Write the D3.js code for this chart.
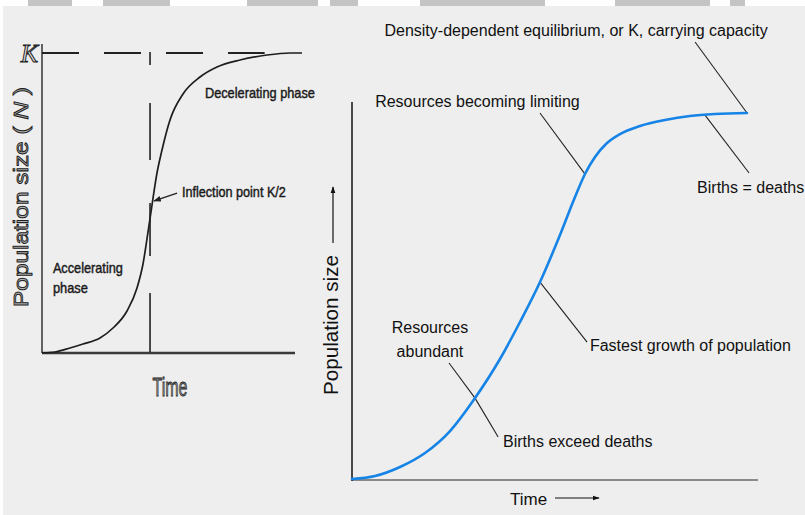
<!DOCTYPE html>
<html><head><meta charset="utf-8">
<script src="https://cdn.jsdelivr.net/npm/d3@7"></script>
<style>html,body{margin:0;padding:0;background:#eeeeee;} svg{display:block}</style>
</head><body>
<svg id="c" width="805" height="515"></svg>
<script>
// ---------- DATA ----------
// Left panel: logistic growth, N as % of carrying capacity K
const leftTime = [0, 5.14, 11.07, 16.21, 22.92, 28.06, 33.6, 37.55, 39.92, 41.9, 43.48, 45.45, 47.43, 50.59, 55.73, 62.45, 69.17, 78.26, 88.93, 98.02, 102.77];
const leftN    = [0, 0.33, 1.67, 3, 5, 8.33, 14, 21.67, 29.67, 40.33, 49.33, 60, 67.67, 77.67, 86.33, 92, 95.33, 97.67, 99.33, 100, 100];
const leftK = 100;
const leftInflectionTime = 42.7;
const leftKLineEnd = 88;

// Right panel: logistic growth, population size as % of K
const rightTime = [0, 5.67, 11.82, 17.98, 24.14, 30.3, 36.45, 41.38, 46.31, 51.23, 54.93, 57.39, 59.85, 62.81, 66.01, 70.94, 77.09, 83.25, 89.41, 97.29];
const rightN    = [0, 0.82, 3.28, 7.1, 13.11, 22.13, 32.79, 42.9, 53.83, 66.67, 77.05, 83.33, 87.98, 91.8, 94.26, 96.45, 98.09, 99.18, 99.73, 100];

// Left panel labels
const leftLabels = ["Decelerating phase", "Inflection point K/2", "Accelerating", "phase", "Time", "K"];
const leftYLabel = ["Population size ( ", "N", " )"];

// Right panel annotations: text lines, anchor on curve [t, n], leader end [t, n], text position [t, n]
const rightNotes = [
  { lines: ["Density-dependent equilibrium, or K, carrying capacity"], from: [97.3, 100], to: [84.5, 119.4], at: [55.2, 121.0], anchor: "middle" },
  { lines: ["Resources becoming limiting"], from: [57.4, 83.3], to: [46.3, 100], at: [5.7, 101.6], anchor: "start" },
  { lines: ["Births = deaths"], from: [86.9, 99.5], to: [97.8, 83.6], at: [85.0, 78.1], anchor: "start" },
  { lines: ["Resources", "abundant"], from: [30.3, 22.1], to: [23.9, 31.7], at: [19.2, 39.9], anchor: "middle" },
  { lines: ["Births exceed deaths"], from: [30.3, 22.1], to: [36.0, 11.5], at: [37.2, 8.7], anchor: "start" },
  { lines: ["Fastest growth of population"], from: [46.3, 53.8], to: [57.9, 37.4], at: [58.6, 35.0], anchor: "start" }
];
const rightYLabel = "Population size";
const rightXLabel = "Time";

// ---------- DRAW ----------
const svg = d3.select("#c");
const W = 805, H = 515;

svg.append("defs").html(`
  <marker id="ahL" viewBox="0 0 10 10" refX="9" refY="5" markerWidth="5" markerHeight="5" orient="auto">
    <path d="M0,1 L10,5 L0,9 z" fill="#222"/></marker>
  <marker id="ahR" viewBox="0 0 10 10" refX="9" refY="5" markerWidth="6" markerHeight="6" orient="auto">
    <path d="M0,1.5 L10,5 L0,8.5 z" fill="#111"/></marker>`);

// background
svg.append("rect").attr("width", W).attr("height", H).attr("fill", "#eeeeee");
svg.append("rect").attr("width", 3).attr("height", H).attr("fill", "#ffffff");
// top watermark band
svg.append("rect").attr("width", W).attr("height", 6).attr("fill", "#ffffff");
[[28,72],[103,170],[247,318],[330,358],[420,545],[615,710],[730,745]].forEach(([a,b]) =>
  svg.append("rect").attr("x", a).attr("y", 0).attr("width", b - a).attr("height", 6).attr("fill", "#c4c4c4"));

const sans = "'Liberation Sans', Arial, Helvetica, sans-serif";

// ===== LEFT PANEL =====
const xL = d3.scaleLinear().domain([0, 100]).range([42, 295]);
const yL = d3.scaleLinear().domain([0, 100]).range([353, 53]);
const gL = svg.append("g");

// axes
gL.append("line").attr("x1", xL(0)).attr("x2", xL(0)).attr("y1", yL(103)).attr("y2", yL(0))
  .attr("stroke", "#333").attr("stroke-width", 1.5);
gL.append("line").attr("x1", xL(0)).attr("x2", xL(100)).attr("y1", yL(0)).attr("y2", yL(0))
  .attr("stroke", "#3a3a3a").attr("stroke-width", 2.5);

// K dashed line
gL.append("line").attr("x1", xL(0)).attr("x2", xL(leftKLineEnd)).attr("y1", yL(leftK)).attr("y2", yL(leftK))
  .attr("stroke", "#222").attr("stroke-width", 2.2).attr("stroke-dasharray", "37,25");

// inflection vertical dashed line
gL.append("line").attr("x1", xL(leftInflectionTime)).attr("x2", xL(leftInflectionTime))
  .attr("y1", yL(leftK) - 1).attr("y2", yL(0))
  .attr("stroke", "#222").attr("stroke-width", 1.6)
  .attr("stroke-dasharray", "13,38,57,43,53,37,59,40");

// curve
const lineL = d3.line().x(d => xL(d[0])).y(d => yL(d[1])).curve(d3.curveMonotoneX);
gL.append("path").datum(leftTime.map((t, i) => [t, leftN[i]]))
  .attr("d", lineL).attr("fill", "none").attr("stroke", "#1e1e1e").attr("stroke-width", 1.7);

// K label
gL.append("text").attr("x", xL(0) - 4).attr("y", yL(leftK) + 9).attr("text-anchor", "end")
  .attr("font-family", "'Liberation Serif', serif").attr("font-style", "italic").attr("font-size", 26)
  .attr("fill", "#ddd").attr("stroke", "#222").attr("stroke-width", 1).text(leftLabels[5]);

// y label
const yl = gL.append("text").attr("transform", `translate(28,${(yL(0) + yL(100)) / 2 - 6}) rotate(-90)`)
  .attr("text-anchor", "middle").attr("font-family", sans).attr("font-size", 21)
  .attr("textLength", 220).attr("lengthAdjust", "spacingAndGlyphs")
  .attr("fill", "#b0b0b0").attr("stroke", "#222").attr("stroke-width", 0.9);
yl.append("tspan").text(leftYLabel[0]);
yl.append("tspan").attr("font-style", "italic").text(leftYLabel[1]);
yl.append("tspan").text(leftYLabel[2]);

// phase labels
const lblStyle = s => s.attr("font-family", sans).attr("font-size", 15).attr("fill", "#1a1a1a")
  .attr("stroke", "#1a1a1a").attr("stroke-width", 0.45).attr("lengthAdjust", "spacingAndGlyphs");
gL.append("text").attr("x", xL(64.4)).attr("y", yL(85)).attr("textLength", 110).call(lblStyle).text(leftLabels[0]);
gL.append("text").attr("x", xL(55.3)).attr("y", yL(52)).attr("textLength", 104).call(lblStyle).text(leftLabels[1]);
gL.append("text").attr("x", xL(4.3)).attr("y", yL(26.7)).attr("textLength", 70).call(lblStyle).text(leftLabels[2]);
gL.append("text").attr("x", xL(4.3)).attr("y", yL(20)).attr("textLength", 35).call(lblStyle).text(leftLabels[3]);

// inflection arrow
gL.append("line").attr("x1", xL(53.4)).attr("y1", yL(53.3)).attr("x2", xL(44.3)).attr("y2", yL(50.7))
  .attr("stroke", "#222").attr("stroke-width", 1.5).attr("marker-end", "url(#ahL)");

// Time label
gL.append("text").attr("x", xL(50.6)).attr("y", yL(0) + 43).attr("text-anchor", "middle")
  .attr("font-family", sans).attr("font-size", 26).attr("textLength", 35).attr("lengthAdjust", "spacingAndGlyphs")
  .attr("fill", "#888").attr("stroke", "#222").attr("stroke-width", 0.8).text(leftLabels[4]);

// ===== RIGHT PANEL =====
const xR = d3.scaleLinear().domain([0, 100]).range([352, 758]);
const yR = d3.scaleLinear().domain([0, 100]).range([479, 113]);
const gR = svg.append("g");

gR.append("line").attr("x1", xR(0)).attr("x2", xR(100)).attr("y1", yR(0) + 1).attr("y2", yR(0) + 1)
  .attr("stroke", "#8a8a8a").attr("stroke-width", 2.2);
gR.append("line").attr("x1", xR(0)).attr("x2", xR(0)).attr("y1", yR(103)).attr("y2", yR(0) + 2)
  .attr("stroke", "#111").attr("stroke-width", 1.5);

// leader lines
rightNotes.forEach(n => {
  gR.append("line").attr("x1", xR(n.from[0])).attr("y1", yR(n.from[1]))
    .attr("x2", xR(n.to[0])).attr("y2", yR(n.to[1]))
    .attr("stroke", "#222").attr("stroke-width", 1.1);
});

// blue curve
const lineR = d3.line().x(d => xR(d[0])).y(d => yR(d[1])).curve(d3.curveMonotoneX);
gR.append("path").datum(rightTime.map((t, i) => [t, rightN[i]]))
  .attr("d", lineR).attr("fill", "none").attr("stroke", "#1684e6").attr("stroke-width", 2.6)
  .attr("stroke-linecap", "round");

// annotation texts
rightNotes.forEach(n => {
  n.lines.forEach((l, i) => {
    gR.append("text").attr("x", xR(n.at[0])).attr("y", yR(n.at[1]) + i * 24)
      .attr("text-anchor", n.anchor).attr("font-family", sans).attr("font-size", 16)
      .attr("fill", "#111").text(l);
  });
});

// y label with arrow
gR.append("text").attr("transform", `translate(338,325) rotate(-90)`).attr("text-anchor", "middle")
  .attr("font-family", sans).attr("font-size", 20).attr("textLength", 140).attr("lengthAdjust", "spacingAndGlyphs")
  .attr("fill", "#111").text(rightYLabel);
gR.append("line").attr("x1", 333).attr("x2", 333).attr("y1", 243).attr("y2", 187)
  .attr("stroke", "#111").attr("stroke-width", 1.2).attr("marker-end", "url(#ahR)");

// x label with arrow
gR.append("text").attr("x", 510).attr("y", 505).attr("font-family", sans).attr("font-size", 17)
  .attr("fill", "#111").text(rightXLabel);
gR.append("line").attr("x1", 555).attr("x2", 599).attr("y1", 498).attr("y2", 498)
  .attr("stroke", "#111").attr("stroke-width", 1.2).attr("marker-end", "url(#ahR)");
</script>
</body></html>
